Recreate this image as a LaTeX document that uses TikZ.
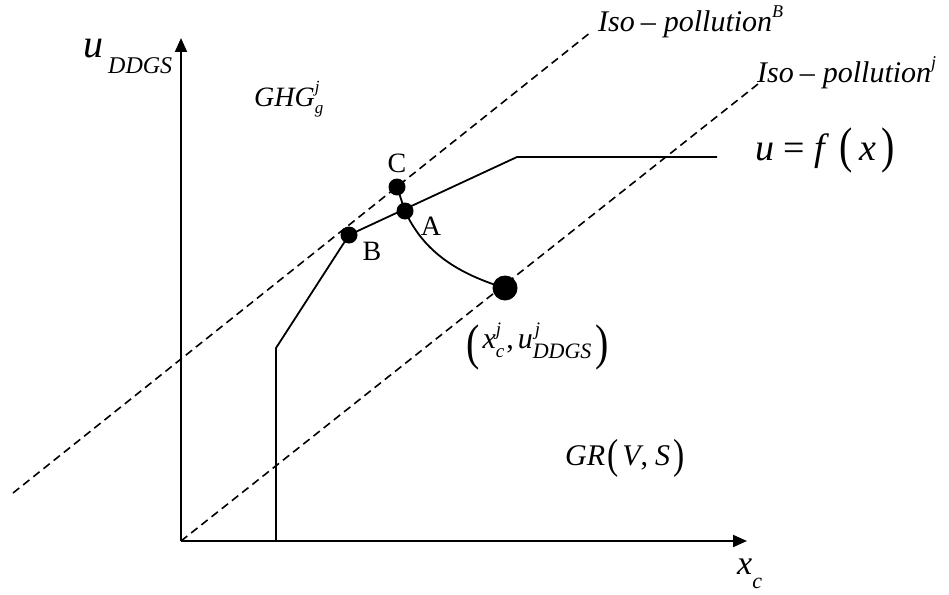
\documentclass[tikz,border=0pt]{standalone}
\usepackage{fontspec}
\setmainfont{Liberation Serif}
\usetikzlibrary{arrows.meta}
\newcommand\fs[1]{\fontsize{#1}{#1}\selectfont}
\newcommand\tallparen[3]{\raisebox{-#2}{\scalebox{0.8}[1]{\fs{#1}\upshape #3}}}
\begin{document}
\begin{tikzpicture}[x=1pt,y=-1pt,
  axis/.style={line width=2pt,-{Triangle[length=14pt,width=12pt]}},
  solidline/.style={line width=1.8pt},
  isoline/.style={line width=1.6pt,dash pattern=on 8pt off 5pt},
  smalldot/.style={circle,fill=black,inner sep=0pt,minimum size=17pt},
  bigdot/.style={circle,fill=black,inner sep=0pt,minimum size=25pt},
  lbl/.style={inner sep=0pt,font=\fs{27}},
  ptlbl/.style={inner sep=0pt,font=\fs{28}}]
\useasboundingbox (0,0) rectangle (949,594);
% coordinates
\coordinate (O) at (181,541);
\coordinate (Ytop) at (181,38);
\coordinate (Xend) at (747,541);
\coordinate (P1) at (276,541);
\coordinate (P2) at (276,348);
\coordinate (K) at (517,157);
\coordinate (E) at (717,157);
\coordinate (U1) at (13,493);
\coordinate (U2) at (591,32);
\coordinate (L2) at (758,84);
% dashed iso-pollution lines
\draw[isoline] (U1) -- (U2);
\draw[isoline] (O) -- (L2);
% axes
\draw[axis] (O) -- (Ytop);
\draw[axis] (O) -- (Xend);
% frontier
\node[smalldot] (B) at (349,235) {};
\node[smalldot] (C) at (397,187) {};
\node[smalldot] (A) at (405,211) {};
\node[bigdot] (D) at (505,288) {};
\draw[solidline,line join=miter] (P1) -- (P2) -- (B.center) -- (K) -- (E);
\draw[solidline] (C.center) -- (A.center) .. controls (422,248) and (452,272) .. (D.center);
% point labels
\node[ptlbl,anchor=base] (Cl) at (397,172) {C};
\node[ptlbl,anchor=base] (Al) at (431,235) {A};
\node[ptlbl,anchor=base] (Bl) at (372,260) {B};
% axis labels
\node[lbl,anchor=base west] (ul) at (83,58) {\fs{40}\itshape u\hspace{5pt}\raisebox{-15pt}{\fs{24}DDGS}};
\node[lbl,anchor=base west] (xl) at (737,574) {\fs{34}\itshape x\raisebox{-14pt}{\fs{22}c}};
% other labels
\node[lbl,anchor=base west] (ghg) at (254,106) {\fs{28}\itshape GHG\rlap{\raisebox{14pt}{\fs{17}j}}\raisebox{-7pt}{\fs{17}g}};
\node[lbl,anchor=base west] (isoB) at (598,32) {\fs{30}\itshape Iso\hspace{6pt}\upshape –\hspace{8pt}\itshape pollution\raisebox{14pt}{\fs{18}B}};
\node[lbl,anchor=base west] (isoj) at (757,82) {\fs{30}\itshape Iso\hspace{6pt}\upshape –\hspace{8pt}\itshape pollution\raisebox{14pt}{\fs{18}j}};
\node[lbl,anchor=base west] (ufx) at (755,160) {\fs{38}\itshape u\hspace{9pt}\upshape =\hspace{10pt}\itshape f\hspace{14pt}\tallparen{50}{2pt}{(}\hspace{7pt}\itshape x\hspace{5pt}\tallparen{50}{2pt}{)}};
\node[lbl,anchor=base west] (xu) at (466,348) {\tallparen{50}{11pt}{(}\hspace{3pt}\fs{30}\itshape x\rlap{\raisebox{13pt}{\fs{19}j}}\raisebox{-9pt}{\fs{19}c}\hspace{2pt}\upshape ,\hspace{4pt}\itshape u\rlap{\raisebox{13pt}{\fs{19}\hspace{2pt}j}}\raisebox{-10pt}{\fs{22}DDGS}\hspace{4pt}\tallparen{50}{11pt}{)}};
\node[lbl,anchor=base west] (gr) at (565,465) {\fs{30}\itshape GR\hspace{2pt}\tallparen{42}{3pt}{(}\hspace{4pt}\itshape V\upshape ,\hspace{7pt}\itshape S\hspace{3pt}\tallparen{42}{3pt}{)}};
\end{tikzpicture}
\end{document}
